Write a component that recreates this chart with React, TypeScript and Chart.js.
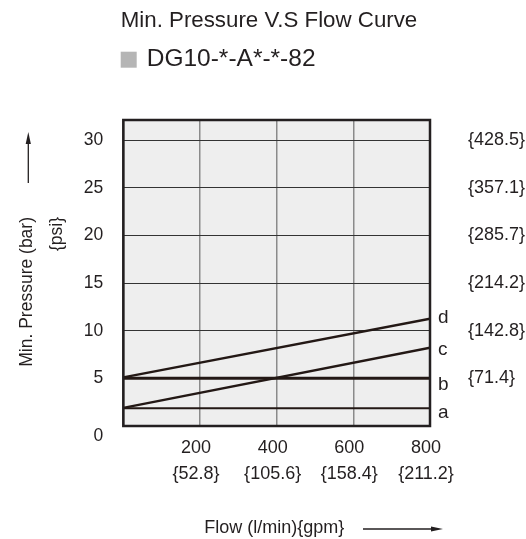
import { useEffect, useRef } from 'react';
import { Chart, registerables } from 'chart.js';

Chart.register(...registerables);

const chartTitle = 'Min. Pressure V.S Flow Curve';
const legendLabel = 'DG10-*-A*-*-82';
const yTitle = 'Min. Pressure (bar)';
const yTitle2 = '{psi}';
const xTitle = 'Flow (l/min){gpm}';

const flowTicks = [0, 200, 400, 600, 800];
const gpmLabels = ['', '{52.8}', '{105.6}', '{158.4}', '{211.2}'];
const barTicks = [0, 5, 10, 15, 20, 25, 30];
const psiLabels = ['', '{71.4}', '{142.8}', '{214.2}', '{285.7}', '{357.1}', '{428.5}'];

const flowPoints = [0, 800];
const curveA = [1.85, 1.85];
const curveB = [5, 5];
const curveC = [1.9, 8.2];
const curveD = [5.1, 11.25];
const curveNames = ['a', 'b', 'c', 'd'];

const FONT = "'Liberation Sans', Arial, sans-serif";
const INK = '#231f20';

function arrow(ctx: CanvasRenderingContext2D, x1: number, y1: number, x2: number, y2: number) {
  const ang = Math.atan2(y2 - y1, x2 - x1);
  const len = 12;
  const hw = 2.6;
  ctx.save();
  ctx.strokeStyle = INK;
  ctx.fillStyle = INK;
  ctx.lineWidth = 1.3;
  ctx.beginPath();
  ctx.moveTo(x1, y1);
  ctx.lineTo(x2 - Math.cos(ang) * len * 0.8, y2 - Math.sin(ang) * len * 0.8);
  ctx.stroke();
  ctx.beginPath();
  ctx.moveTo(x2, y2);
  ctx.lineTo(x2 - Math.cos(ang) * len - Math.sin(ang) * hw, y2 - Math.sin(ang) * len + Math.cos(ang) * hw);
  ctx.lineTo(x2 - Math.cos(ang) * len + Math.sin(ang) * hw, y2 - Math.sin(ang) * len - Math.cos(ang) * hw);
  ctx.closePath();
  ctx.fill();
  ctx.restore();
}

const labelDy: Record<string, number> = { a: 10, b: 12, c: 7, d: 4 };

const decor = {
  id: 'decor',
  beforeDraw(chart: any) {
    const { ctx, chartArea: a } = chart;
    ctx.save();
    ctx.fillStyle = '#eeeeee';
    ctx.fillRect(a.left, a.top, a.right - a.left, a.bottom - a.top);
    ctx.restore();
  },
  afterDatasetsDraw(chart: any) {
    const { ctx, chartArea: a } = chart;
    ctx.save();
    ctx.strokeStyle = INK;
    ctx.lineWidth = 2.5;
    ctx.strokeRect(a.left, a.top, a.right - a.left, a.bottom - a.top);
    ctx.fillStyle = INK;
    ctx.font = `19px ${FONT}`;
    ctx.textAlign = 'left';
    ctx.textBaseline = 'alphabetic';
    chart.data.datasets.forEach((ds: any, i: number) => {
      const last = ds.data[ds.data.length - 1];
      const y = chart.scales.y.getPixelForValue(last.y);
      const name = curveNames[i];
      ctx.fillText(name, a.right + 8, y + (labelDy[name] ?? 6));
    });
    ctx.restore();
  },
  afterDraw(chart: any) {
    const { ctx } = chart;
    ctx.save();
    ctx.fillStyle = INK;
    ctx.textAlign = 'left';
    ctx.textBaseline = 'middle';
    ctx.font = `22.3px ${FONT}`;
    ctx.fillText(chartTitle, 112.7, 13);
    ctx.fillStyle = '#b5b5b5';
    ctx.fillRect(112.7, 43.7, 16, 16);
    ctx.fillStyle = INK;
    ctx.font = `24.5px ${FONT}`;
    ctx.fillText(legendLabel, 138.7, 51.5);

    ctx.font = `17.5px ${FONT}`;
    ctx.save();
    ctx.translate(19, 209);
    ctx.rotate(-Math.PI / 2);
    ctx.textAlign = 'right';
    ctx.fillText(yTitle, 0, 0);
    ctx.restore();
    ctx.save();
    ctx.translate(49, 209);
    ctx.rotate(-Math.PI / 2);
    ctx.textAlign = 'right';
    ctx.fillText(yTitle2, 0, 0);
    ctx.restore();
    arrow(ctx, 20.3, 175, 20.3, 124);

    ctx.font = `18px ${FONT}`;
    ctx.textAlign = 'center';
    ctx.textBaseline = 'alphabetic';
    ctx.fillText(xTitle, 266.2, 525);
    arrow(ctx, 355, 521, 435, 521);
    ctx.restore();
  },
};

export default function App() {
  const ref = useRef<HTMLCanvasElement | null>(null);
  useEffect(() => {
    if (!ref.current) return;
    const mk = (ys: number[]) => flowPoints.map((x, i) => ({ x, y: ys[i] }));
    const widths = [2, 3, 2.5, 2.5];
    const chart = new Chart(ref.current, {
      type: 'line',
      data: {
        datasets: [curveA, curveB, curveC, curveD].map((ys, i) => ({
          label: curveNames[i],
          data: mk(ys),
          borderColor: '#231815',
          borderWidth: widths[i],
          pointRadius: 0,
          tension: 0,
          fill: false,
        })),
      },
      options: {
        animation: false,
        responsive: true,
        maintainAspectRatio: false,
        layout: { padding: { top: 112, left: 0, right: 0, bottom: 0 } },
        plugins: {
          legend: { display: false },
          title: { display: false },
          tooltip: { enabled: false },
        },
        scales: {
          x: {
            type: 'linear',
            min: 0,
            max: 800,
            afterFit: (s: any) => { s.height = 113; },
            afterBuildTicks: (s: any) => { s.ticks = flowTicks.map((v) => ({ value: v })); },
            ticks: {
              stepSize: 200,
              padding: 9,
              labelOffset: -4,
              color: INK,
              font: { family: FONT, size: 18, lineHeight: 1.44 },
              callback: (v: any) => {
                const i = flowTicks.indexOf(Number(v));
                if (i <= 0) return '';
                return [String(flowTicks[i]), gpmLabels[i]];
              },
            },
            grid: { color: '#8a8a8a', lineWidth: 1.5, drawTicks: false },
            border: { display: false },
          },
          y: {
            type: 'linear',
            position: 'left',
            min: 0,
            max: 32.1,
            afterFit: (s: any) => { s.width = 115.3; },
            afterBuildTicks: (s: any) => { s.ticks = barTicks.map((v) => ({ value: v })); },
            ticks: {
              stepSize: 5,
              includeBounds: false,
              padding: 20,
              color: INK,
              font: { family: FONT, size: 17.5, lineHeight: 1.2 },
              callback: (v: any) => (Number(v) === 0 ? ['', '0'] : String(v)),
            },
            grid: { color: '#333333', lineWidth: 1, drawTicks: false },
            border: { display: false },
          },
          y2: {
            type: 'linear',
            position: 'right',
            min: 0,
            max: 32.1,
            afterFit: (s: any) => { s.width = 96; },
            afterBuildTicks: (s: any) => { s.ticks = barTicks.map((v) => ({ value: v })); },
            ticks: {
              stepSize: 5,
              includeBounds: false,
              padding: 38,
              color: INK,
              font: { family: FONT, size: 18 },
              callback: (v: any) => psiLabels[barTicks.indexOf(Number(v))] ?? '',
            },
            grid: { display: false, drawTicks: false },
            border: { display: false },
          },
        },
      } as any,
      plugins: [decor],
    });
    return () => chart.destroy();
  }, []);
  return (
    <div style={{ position: 'fixed', left: 8, top: 8, width: 518, height: 531 }}>
      <canvas ref={ref} />
    </div>
  );
}
